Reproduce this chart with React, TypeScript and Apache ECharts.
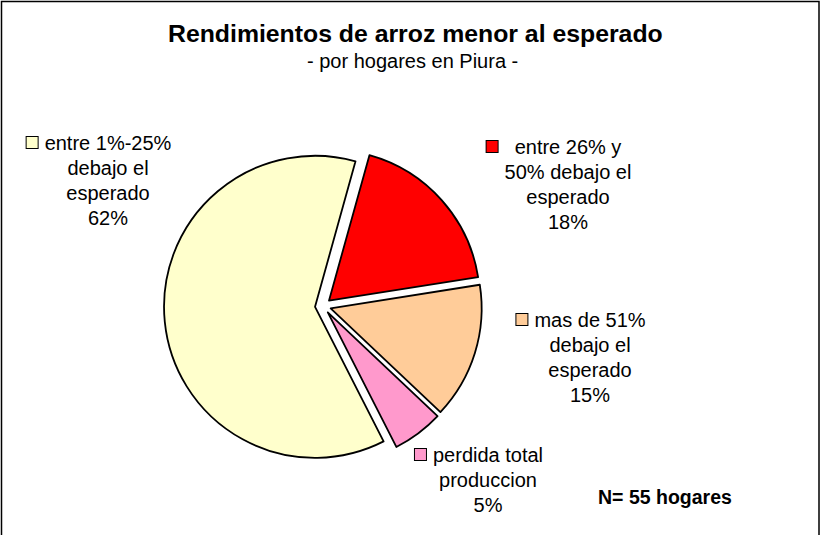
import React, { useEffect, useRef } from "react";
import * as echarts from "echarts";

const titleText = "Rendimientos de arroz menor al esperado";
const subtitleText = "- por hogares en Piura -";
const noteText = "N= 55 hogares";

const categories = [
  "entre 1%-25%\ndebajo el\nesperado",
  "entre 26% y\n50% debajo el\nesperado",
  "mas de 51%\ndebajo el\nesperado",
  "perdida total\nproduccion",
];
const householdCounts = [34, 10, 8, 3];
const sliceColors = ["#FFFFCC", "#FF0000", "#FFCC99", "#FF99CC"];

// label block anchors (center x, top y) – layout only
const labelAnchors = [
  [108, 130],
  [568, 134],
  [590, 307],
  [488, 442],
];

const FONT = "'Liberation Sans', Arial, Helvetica, sans-serif";

export default function App() {
  const ref = useRef<HTMLDivElement>(null);

  useEffect(() => {
    document.body.style.margin = "0";
    if (!ref.current) return;
    const chart = echarts.init(ref.current, undefined, { renderer: "svg" });

    const total = householdCounts.reduce((a, b) => a + b, 0);

    const baseRich: Record<string, any> = {
      t: { fontSize: 20, lineHeight: 25, fill: "#000", fontFamily: FONT },
      g: { width: 7, height: 11, lineHeight: 25, align: "left" },
      pl: { width: 18, height: 11, lineHeight: 25, align: "left" },
      pr: { width: 18, height: 11, lineHeight: 25, align: "right" },
    };

    const labelGraphics = categories.map((cat, i) => {
      const pct = Math.round((householdCounts[i] / total) * 100) + "%";
      const lines = cat.split("\n").concat([pct]);
      const text = lines
        .map((ln, k) => (k === 0 ? `{m|}{g|}{t|${ln}}{pr|}` : `{pl|}{t|${ln}}{pr|}`))
        .join("\n");
      return {
        type: "text",
        silent: true,
        x: labelAnchors[i][0],
        y: labelAnchors[i][1],
        style: {
          text,
          align: "center",
          verticalAlign: "top",
          fontSize: 20,
          fontFamily: FONT,
          fill: "#000",
          rich: {
            ...baseRich,
            m: {
              width: 11,
              height: 11,
              lineHeight: 25,
              align: "left",
              backgroundColor: sliceColors[i],
              borderColor: "#000",
              borderWidth: 1,
            },
          },
        },
      };
    });

    const option: any = {
      animation: false,
      backgroundColor: "#fff",
      title: [
        {
          text: titleText,
          left: 168,
          top: 21,
          padding: 0,
          textStyle: { fontSize: 24.8, fontWeight: "bold", color: "#000", fontFamily: FONT },
        },
        {
          text: subtitleText,
          left: 307,
          top: 51,
          padding: 0,
          textStyle: { fontSize: 20, fontWeight: "normal", color: "#000", fontFamily: FONT },
        },
        {
          text: noteText,
          left: 598,
          top: 487,
          padding: 0,
          textStyle: { fontSize: 19.5, fontWeight: "bold", color: "#000", fontFamily: FONT },
        },
      ],
      graphic: [
        {
          type: "rect",
          shape: { x: 1.5, y: 1.5, width: 817.5, height: 545 },
          style: { fill: "none", stroke: "#000", lineWidth: 1.5 },
          silent: true,
        },
        ...labelGraphics,
      ],
      series: [
        {
          type: "pie",
          center: [323, 306],
          radius: 151,
          startAngle: 297,
          clockwise: true,
          selectedMode: "multiple",
          selectedOffset: 8,
          silent: true,
          emphasis: { disabled: true },
          itemStyle: { borderColor: "#000", borderWidth: 1.8 },
          select: { itemStyle: { borderColor: "#000", borderWidth: 1.8 } },
          label: { show: false },
          labelLine: { show: false },
          data: categories.map((name, i) => ({
            name,
            value: householdCounts[i],
            selected: true,
            itemStyle: { color: sliceColors[i] },
          })),
        },
      ],
    };

    chart.setOption(option);
    return () => chart.dispose();
  }, []);

  return <div ref={ref} style={{ width: 823, height: 535 }} />;
}
